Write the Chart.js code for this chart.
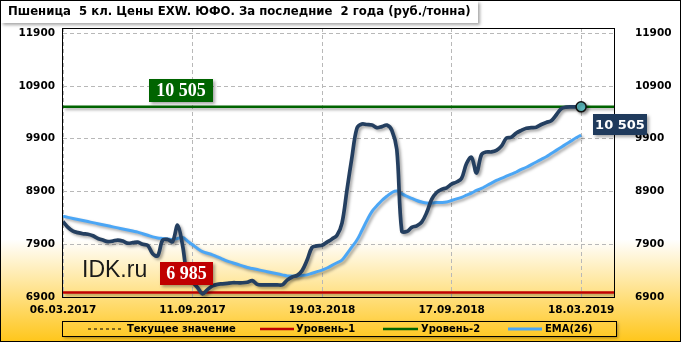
<!DOCTYPE html>
<html lang="ru">
<head>
<meta charset="UTF-8">
<title>Пшеница 5 кл. Цены EXW. ЮФО</title>
<script src="https://cdn.jsdelivr.net/npm/chart.js@4.4.1/dist/chart.umd.min.js"></script>
<style>
    body { margin: 0; background: #fff; }
    #wrap { width: 681px; height: 342px; }
</style>
</head>
<body>
<div id="wrap"><canvas id="myChart" width="681" height="342"></canvas></div>
<script>
// x axis = week number from 06.03.2017
const tickWeeks = [0, 26, 52, 78, 104];
const tickDates = ['06.03.2017', '11.09.2017', '19.03.2018', '17.09.2018', '18.03.2019'];
const yTicks = [6900, 7900, 8900, 9900, 10900, 11900];

// price, руб./тонна (weekly)
const price = [
    8330, 8220, 8150, 8120, 8100, 8090, 8060, 8010, 7980, 7950,
    7960, 7980, 7960, 7920, 7930, 7940, 7900, 7880, 7720, 7680,
    7980, 7990, 7950, 8260, 7880, 7280, 7180, 7080, 6960, 7040,
    7110, 7140, 7150, 7160, 7170, 7170, 7170, 7180, 7210, 7140,
    7130, 7130, 7130, 7130, 7130, 7220, 7280, 7310, 7400, 7600,
    7840, 7870, 7880, 7940, 8000, 8070, 8300, 8930, 9550, 10100,
    10180, 10170, 10160, 10110, 10130, 10160, 10060, 9700, 8150, 8140,
    8220, 8250, 8320, 8500, 8750, 8880, 8940, 8970, 9040, 9080,
    9150, 9430, 9550, 9250, 9600, 9650, 9650, 9680, 9760, 9910,
    9930, 10010, 10060, 10100, 10110, 10120, 10170, 10210, 10240, 10350,
    10470, 10500, 10505, 10505, 10505
];

// EMA(26)
const ema26 = [
    8430, 8410, 8390, 8370, 8350, 8330, 8310, 8290, 8270, 8250,
    8230, 8210, 8190, 8170, 8150, 8130, 8100, 8070, 8040, 8020,
    8010, 8000, 7990, 8010, 8030, 7960, 7890, 7820, 7760, 7730,
    7700, 7660, 7620, 7580, 7550, 7520, 7490, 7460, 7440, 7420,
    7400, 7380, 7360, 7340, 7320, 7300, 7300, 7300, 7310, 7320,
    7350, 7380, 7410, 7450, 7500, 7550, 7600, 7720, 7850, 7980,
    8160, 8350, 8520, 8630, 8730, 8810, 8880, 8910, 8860, 8810,
    8770, 8730, 8700, 8680, 8680, 8690, 8690, 8700, 8730, 8760,
    8790, 8830, 8870, 8920, 8960, 9010, 9060, 9110, 9150, 9190,
    9230, 9270, 9320, 9360, 9410, 9460, 9510, 9560, 9620, 9680,
    9740, 9800, 9860, 9920, 9970
];

const level1 = 6985;   // Уровень-1
const level2 = 10505;  // Уровень-2
const lastValue = 10505;
const xMax = 110.6;

const NAVY = '#243f60';
const BLUE = '#4ba6f5';
const GREEN = '#006400';
const RED = '#c00000';
const FONT = '"DejaVu Sans", sans-serif';

function pts(arr) {
    return arr.map(function (v, i) { return { x: i, y: v }; });
}

function fmt(v) {
    // 10505 -> "10 505"
    return String(v).replace(/\B(?=(\d{3})+(?!\d))/g, ' ');
}

function bgGradient(ctx) {
    var g = ctx.createLinearGradient(0, 0, 0, 342);
    g.addColorStop(0, '#ffffff');
    g.addColorStop(0.70, '#ffffff');
    g.addColorStop(1, '#ffc61a');
    return g;
}

function shadowOn(ctx) {
    ctx.shadowColor = 'rgba(0,0,0,0.35)';
    ctx.shadowOffsetX = 2;
    ctx.shadowOffsetY = 2;
    ctx.shadowBlur = 3;
}

function labelBox(ctx, x, y, w, h, fill, text, font) {
    ctx.save();
    shadowOn(ctx);
    ctx.fillStyle = fill;
    ctx.fillRect(x, y, w, h);
    ctx.restore();
    ctx.fillStyle = '#fff';
    ctx.font = font;
    ctx.textAlign = 'center';
    ctx.textBaseline = 'middle';
    ctx.fillText(text, x + w / 2, y + h / 2 + 1);
}

const decor = {
    id: 'decor',
    beforeDraw: function (chart) {
        var ctx = chart.ctx;
        ctx.save();
        ctx.fillStyle = bgGradient(ctx);
        ctx.fillRect(0, 0, 681, 342);
        ctx.restore();
    },
    beforeDatasetDraw: function (chart) {
        chart.ctx.save();
        shadowOn(chart.ctx);
    },
    afterDatasetDraw: function (chart) {
        chart.ctx.restore();
    },
    afterDraw: function (chart) {
        var ctx = chart.ctx;
        var a = chart.chartArea;
        ctx.save();
        // plot frame
        ctx.strokeStyle = '#000';
        ctx.lineWidth = 1;
        ctx.strokeRect(Math.round(a.left) - 0.5, Math.round(a.top) + 0.5,
            Math.round(a.right - a.left) + 1, Math.round(a.bottom - a.top));

        // watermark
        ctx.fillStyle = '#1a1a1a';
        ctx.font = '23px "Liberation Sans", Arial, sans-serif';
        ctx.textAlign = 'left';
        ctx.textBaseline = 'alphabetic';
        ctx.fillText('IDK.ru', 82, 277);

        // level labels
        var serif = 'bold 18px "Liberation Serif", serif';
        labelBox(ctx, 149, 79, 64, 23, GREEN, fmt(level2), serif);
        labelBox(ctx, 160, 262, 53, 23, RED, fmt(level1), serif);
        labelBox(ctx, 593, 114, 54, 21, '#1f3a5c', fmt(lastValue), 'bold 13px ' + FONT);

        // title
        ctx.save();
        shadowOn(ctx);
        ctx.fillStyle = '#fff';
        ctx.fillRect(1, 1, 477, 22);
        ctx.restore();
        ctx.fillStyle = '#000';
        ctx.font = 'bold 11.7px ' + FONT;
        ctx.textAlign = 'left';
        ctx.textBaseline = 'middle';
        ctx.fillText('Пшеница  5 кл. Цены EXW. ЮФО. За последние  2 года (руб./тонна)', 8, 12);

        // legend
        ctx.save();
        shadowOn(ctx);
        ctx.fillStyle = bgGradient(ctx);
        ctx.fillRect(62, 321, 554, 15);
        ctx.restore();
        ctx.strokeStyle = '#000';
        ctx.strokeRect(62.5, 321.5, 554, 15);
        var ly = 329;
        var items = [
            { x1: 88, x2: 121, color: '#000', w: 1, dash: [3, 3], text: 'Текущее значение', tx: 127 },
            { x1: 260, x2: 294, color: RED, w: 2.5, dash: [], text: 'Уровень-1', tx: 296 },
            { x1: 383, x2: 418, color: GREEN, w: 2.5, dash: [], text: 'Уровень-2', tx: 421 },
            { x1: 508, x2: 542, color: BLUE, w: 3, dash: [], text: 'EMA(26)', tx: 545 }
        ];
        ctx.font = 'bold 10px ' + FONT;
        ctx.textAlign = 'left';
        ctx.textBaseline = 'middle';
        items.forEach(function (it) {
            ctx.beginPath();
            ctx.setLineDash(it.dash);
            ctx.moveTo(it.x1, ly);
            ctx.lineTo(it.x2, ly);
            ctx.strokeStyle = it.color;
            ctx.lineWidth = it.w;
            ctx.stroke();
            ctx.setLineDash([]);
            ctx.fillStyle = '#000';
            ctx.fillText(it.text, it.tx, ly);
        });

        // outer border
        ctx.strokeStyle = '#000';
        ctx.lineWidth = 1;
        ctx.strokeRect(0.5, 0.5, 680, 341);
        ctx.restore();
    }
};

function fixTicks(values) {
    return function (scale) {
        scale.ticks = values.map(function (v) { return { value: v }; });
    };
}

const tickFont = { family: FONT, size: 10.5, weight: 'bold' };
const gridDash = [4, 3];

new Chart(document.getElementById('myChart'), {
    type: 'line',
    data: {
        datasets: [
            {
                label: 'last', data: [{ x: 104, y: lastValue }], showLine: false,
                pointRadius: 5, pointBackgroundColor: '#5cb8bc', pointBorderColor: '#111', pointBorderWidth: 1.5
            },
            {
                label: 'Цена', data: pts(price), borderColor: NAVY, borderWidth: 3.7,
                pointRadius: 0, tension: 0.35
            },
            {
                label: 'EMA(26)', data: pts(ema26), borderColor: BLUE, borderWidth: 3,
                pointRadius: 0, tension: 0.4
            },
            {
                label: 'Уровень-2', data: [{ x: 0, y: level2 }, { x: xMax, y: level2 }],
                borderColor: GREEN, borderWidth: 2.5, pointRadius: 0
            },
            {
                label: 'Уровень-1', data: [{ x: 0, y: level1 }, { x: xMax, y: level1 }],
                borderColor: RED, borderWidth: 2.5, pointRadius: 0
            }
        ]
    },
    options: {
        responsive: false,
        animation: false,
        layout: { padding: { left: 0, right: 0, top: 28, bottom: 21 } },
        plugins: { legend: { display: false }, tooltip: { enabled: false } },
        scales: {
            x: {
                type: 'linear', min: 0, max: xMax,
                afterBuildTicks: fixTicks(tickWeeks),
                afterFit: function (s) { s.height = 24; },
                ticks: {
                    padding: 7, color: '#000', font: tickFont, maxRotation: 0, autoSkip: false,
                    callback: function (v) { return tickDates[tickWeeks.indexOf(v)]; }
                },
                grid: { color: '#b8b8b8', drawTicks: false },
                border: { display: false, dash: gridDash }
            },
            y: {
                position: 'left', min: 6900, max: 12000,
                afterBuildTicks: fixTicks(yTicks),
                afterFit: function (s) { s.width = 63; },
                ticks: { padding: 8, color: '#000', font: tickFont, callback: function (v) { return String(v); } },
                grid: { color: '#b8b8b8', drawTicks: false },
                border: { display: false, dash: gridDash }
            },
            y2: {
                position: 'right', min: 6900, max: 12000,
                afterBuildTicks: fixTicks(yTicks),
                afterFit: function (s) { s.width = 67; },
                ticks: { padding: 13, color: '#000', font: tickFont, callback: function (v) { return String(v); } },
                grid: { display: false },
                border: { display: false }
            }
        }
    },
    plugins: [decor]
});
</script>
</body>
</html>
